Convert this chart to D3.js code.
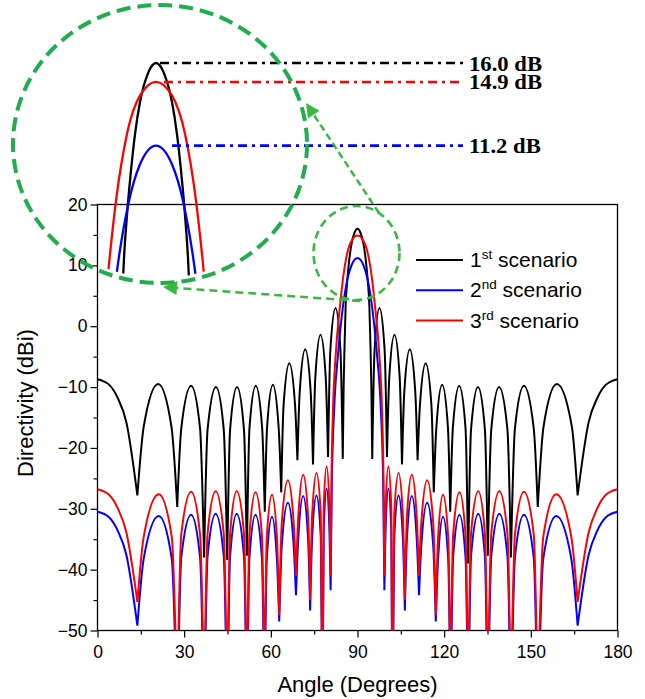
<!DOCTYPE html>
<html>
<head>
<meta charset="utf-8">
<script src="https://cdn.jsdelivr.net/npm/d3@7/dist/d3.min.js"></script>
<style>
  body { margin: 0; background: #fff; }
  svg { display: block; }
  text { font-family: "Liberation Sans", Arial, sans-serif; fill: #000; }
</style>
</head>
<body>
<svg id="chart" width="645" height="699"></svg>
<script>
// ---- axis ticks ----
const xTicks = [0, 30, 60, 90, 120, 150, 180];
const xMinor = [15, 45, 75, 105, 135, 165];
const yTicks = [-50, -40, -30, -20, -10, 0, 10, 20];
const yMinor = [-45, -35, -25, -15, -5, 5, 15];

// ---- legend ----
const legendNum = ["1", "2", "3"];
const legendSup = ["st", "nd", "rd"];
const legendText = " scenario";

// ---- peak directivity of each scenario (dB) ----
const peakValues = [16.0, 11.2, 14.9];

// ---- directivity patterns: [angle (deg), directivity (dBi)] ----
const scenario1 = [
  [0,-8.7],[4,-9.6],[7,-11.8],[10,-15.8],[13.8,-27.8],
  [16.0,-16.5],[21.0,-9.5],[25.6,-16.5],[27.6,-29.7],
  [29.0,-16.8],[32.4,-9.8],[35.5,-16.8],[36.9,-38.0],
  [38.1,-17.0],[41.0,-10.0],[43.7,-17.0],[44.9,-38.4],
  [45.9,-17.0],[48.3,-10.0],[50.7,-17.0],[51.7,-37.7],
  [52.6,-16.8],[54.8,-9.8],[57.0,-16.8],[57.9,-30.5],
  [58.7,-16.6],[60.7,-9.6],[62.7,-16.6],[63.6,-27.3],
  [64.4,-13.1],[66.4,-6.1],[68.4,-13.1],[69.2,-22.0],
  [70.0,-10.8],[71.9,-3.8],[73.8,-10.8],[74.6,-22.7],
  [75.4,-8.4],[77.2,-1.4],[79.0,-8.4],[79.8,-21.5],
  [80.6,-4.0],[82.4,3.0],[84.1,-4.0],[84.9,-21.8],
  [85.2,-10.0],[85.5,-3.5],[85.9,3.4],[86.4,7.2],[86.9,9.8],[87.4,11.9],[88.0,13.7],[89.0,15.4],[90,16.0],
  [91.0,15.4],[92.0,13.7],[92.6,11.9],[93.1,9.8],[93.6,7.2],[94.1,3.4],[94.5,-3.5],[94.8,-10.0],[95.1,-21.8],
  [95.9,-4.0],[97.6,3.0],[99.4,-4.0],[100.2,-21.5],
  [101.0,-8.4],[102.8,-1.4],[104.6,-8.4],[105.4,-22.7],
  [106.2,-10.8],[108.1,-3.8],[110.0,-10.8],[110.8,-22.0],
  [111.6,-13.1],[113.6,-6.1],[115.6,-13.1],[116.4,-27.3],
  [117.3,-16.6],[119.3,-9.6],[121.3,-16.6],[122.1,-30.5],
  [123.0,-16.8],[125.2,-9.8],[127.4,-16.8],[128.3,-39.0],
  [129.3,-17.0],[131.7,-10.0],[134.1,-17.0],[135.1,-37.7],
  [136.3,-17.0],[139.0,-10.0],[141.9,-17.0],[143.1,-38.0],
  [144.5,-16.8],[147.6,-9.8],[151.0,-16.8],[152.4,-29.7],
  [154.4,-16.5],[159.0,-9.5],[164.2,-16.5],[166.2,-27.8],
  [170,-15.8],[173,-11.8],[176,-9.6],[180,-8.7]
];

const scenario2 = [
  [0,-30.5],[4,-31.4],[7,-33.6],[10,-37.6],[13.8,-49.2],
  [16.0,-38.2],[21.2,-31.2],[25.7,-38.2],[27.6,-66],
  [29.0,-38.0],[32.4,-31.0],[35.5,-38.0],[36.9,-66],
  [38.1,-37.8],[40.9,-30.8],[43.7,-37.8],[44.9,-66],
  [45.9,-37.8],[48.2,-30.8],[50.7,-37.8],[51.7,-66],
  [52.6,-38.0],[54.7,-31.0],[56.9,-38.0],[57.8,-64],
  [58.6,-38.3],[60.4,-31.3],[62.1,-38.3],[62.9,-48.5],
  [63.8,-36.0],[65.9,-29.0],[67.9,-36.0],[68.7,-44.2],
  [69.5,-34.9],[71.2,-27.9],[72.9,-34.9],[73.6,-46.7],
  [74.3,-34.8],[75.8,-27.8],[77.3,-34.8],[77.9,-66],
  [78.3,-33.7],[79.3,-26.7],[80.3,-33.7],[80.7,-43.4],
  [81.1,-26.0],[81.9,-13.9],[83.3,-4.4],[85.0,3.4],[86.6,7.9],[88.0,10.1],[90,11.2],
  [92.0,10.1],[93.4,7.9],[95.0,3.4],[96.7,-4.4],[98.1,-13.9],[98.9,-26.0],[99.3,-43.4],
  [99.7,-33.7],[100.7,-26.7],[101.7,-33.7],[102.1,-66],
  [102.7,-34.8],[104.2,-27.8],[105.7,-34.8],[106.4,-46.7],
  [107.1,-34.9],[108.8,-27.9],[110.5,-34.9],[111.3,-44.2],
  [112.1,-36.0],[114.1,-29.0],[116.2,-36.0],[117.1,-48.5],
  [117.9,-38.3],[119.6,-31.3],[121.4,-38.3],[122.2,-64],
  [123.1,-38.0],[125.3,-31.0],[127.4,-38.0],[128.3,-66],
  [129.3,-37.8],[131.8,-30.8],[134.1,-37.8],[135.1,-66],
  [136.3,-37.8],[139.1,-30.8],[141.9,-37.8],[143.1,-66],
  [144.5,-38.0],[147.6,-31.0],[151.0,-38.0],[152.4,-66],
  [154.3,-38.2],[158.8,-31.2],[164.0,-38.2],[166.2,-49.2],
  [170,-37.6],[173,-33.6],[176,-31.4],[180,-30.5]
];

const scenario3 = [
  [0,-26.8],[4,-27.7],[7,-29.9],[10,-33.9],[13.8,-45.3],
  [16.0,-34.6],[21.2,-27.6],[25.7,-34.6],[27.6,-62],
  [29.0,-34.2],[32.4,-27.2],[35.5,-34.2],[36.9,-62],
  [38.1,-34.1],[40.9,-27.1],[43.7,-34.1],[44.9,-62],
  [45.9,-34.1],[48.2,-27.1],[50.7,-34.1],[51.7,-62],
  [52.6,-34.3],[54.7,-27.3],[56.9,-34.3],[57.8,-60],
  [58.6,-34.7],[60.4,-27.7],[62.1,-34.7],[62.9,-47.5],
  [63.8,-32.3],[65.9,-25.3],[67.9,-32.3],[68.7,-41.0],
  [69.5,-31.4],[71.2,-24.4],[72.9,-31.4],[73.6,-45.0],
  [74.3,-31.1],[75.8,-24.1],[77.3,-31.1],[77.9,-62],
  [78.3,-30.0],[79.3,-23.0],[80.3,-30.0],[80.7,-41.0],
  [81.0,-25.0],[81.5,-14.0],[82.5,-4.4],[84.0,3.6],[85.0,7.9],[86.4,11.9],[88.0,14.1],[90,14.9],
  [92.0,14.1],[93.6,11.9],[95.0,7.9],[96.0,3.6],[97.5,-4.4],[98.5,-14.0],[99.0,-25.0],[99.3,-41.0],
  [99.7,-30.0],[100.7,-23.0],[101.7,-30.0],[102.1,-62],
  [102.7,-31.1],[104.2,-24.1],[105.7,-31.1],[106.4,-45.0],
  [107.1,-31.4],[108.8,-24.4],[110.5,-31.4],[111.3,-41.0],
  [112.1,-32.3],[114.1,-25.3],[116.2,-32.3],[117.1,-47.5],
  [117.9,-34.7],[119.6,-27.7],[121.4,-34.7],[122.2,-60],
  [123.1,-34.3],[125.3,-27.3],[127.4,-34.3],[128.3,-62],
  [129.3,-34.1],[131.8,-27.1],[134.1,-34.1],[135.1,-62],
  [136.3,-34.1],[139.1,-27.1],[141.9,-34.1],[143.1,-62],
  [144.5,-34.2],[147.6,-27.2],[151.0,-34.2],[152.4,-62],
  [154.3,-34.6],[158.8,-27.6],[164.0,-34.6],[166.2,-45.3],
  [170,-33.9],[173,-29.9],[176,-27.7],[180,-26.8]
];

const seriesColors = ["#000000", "#0000ff", "#ff0000"];
const series = [scenario1, scenario2, scenario3];
// legend order is 1st, 2nd, 3rd; drawing order keeps the 3rd scenario on top

// ---- layout ----
const svg = d3.select("#chart");
const x = d3.scaleLinear().domain([0, 180]).range([97.5, 617.5]);
const y = d3.scaleLinear().domain([-50, 20]).range([630.5, 204.5]);

const defs = svg.append("defs");
defs.append("clipPath").attr("id", "plotClip")
  .append("rect")
  .attr("x", x(0)).attr("y", y(20))
  .attr("width", x(180) - x(0)).attr("height", y(-50) - y(20));

// inset (magnified main beam) scales and clip
const inset = { cx: 160, cy: 144, rx: 147, ry: 139 };
const ix = d3.scaleLinear().domain([80, 100]).range([75.6, 236.4]);
const iy = d3.scaleLinear().domain([11.2, 16.0]).range([145.6, 63]);
defs.append("clipPath").attr("id", "insetClip")
  .append("ellipse")
  .attr("cx", inset.cx).attr("cy", inset.cy)
  .attr("rx", inset.rx - 2).attr("ry", inset.ry - 5);

// split a pattern at its nulls so each lobe is its own smooth piece
function lobes(pts) {
  const segs = [];
  let cur = [pts[0]];
  for (let i = 1; i < pts.length; i++) {
    cur.push(pts[i]);
    if (i < pts.length - 1 && pts[i][1] < pts[i - 1][1] && pts[i][1] < pts[i + 1][1]) {
      segs.push(cur);
      cur = [pts[i]];
    }
  }
  segs.push(cur);
  return segs;
}

// ---- axes ----
const fmt = d3.format("");
const gx = svg.append("g").attr("transform", `translate(0,${y(-50)})`);
gx.call(d3.axisBottom(x).tickValues(xTicks).tickSize(7).tickPadding(8).tickFormat(fmt));
gx.append("g").call(d3.axisBottom(x).tickValues(xMinor).tickSize(4).tickFormat(""));
const gy = svg.append("g").attr("transform", `translate(${x(0)},0)`);
gy.call(d3.axisLeft(y).tickValues(yTicks).tickSize(7).tickPadding(3));
gy.append("g").call(d3.axisLeft(y).tickValues(yMinor).tickSize(4).tickFormat(""));
svg.selectAll(".domain").remove();
svg.selectAll(".tick line").attr("stroke", "#000").attr("stroke-width", 1.2);
svg.selectAll(".tick text")
  .style("font-family", "'Liberation Sans', Arial, sans-serif")
  .style("font-size", "17.5px").attr("fill", "#000");

svg.append("rect")
  .attr("x", x(0)).attr("y", y(20))
  .attr("width", x(180) - x(0)).attr("height", y(-50) - y(20))
  .attr("fill", "none").attr("stroke", "#000").attr("stroke-width", 1.3);

svg.append("text")
  .attr("x", x(90)).attr("y", 692)
  .attr("text-anchor", "middle")
  .style("font-size", "22px")
  .text("Angle (Degrees)");
svg.append("text")
  .attr("transform", "translate(33,403) rotate(-90)")
  .attr("text-anchor", "middle")
  .style("font-size", "22px")
  .text("Directivity (dBi)");

// ---- curves ----
const line = d3.line().x(d => x(d[0])).y(d => y(d[1])).curve(d3.curveMonotoneX);
const plot = svg.append("g").attr("clip-path", "url(#plotClip)");
series.forEach((s, i) => {
  plot.append("path")
    .attr("d", lobes(s).map(line).join(""))
    .attr("fill", "none")
    .attr("stroke", seriesColors[i])
    .attr("stroke-width", 2)
    .attr("stroke-linejoin", "round");
});

// ---- legend ----
const legend = svg.append("g");
[0, 1, 2].forEach(i => {
  const ly = 260 + i * 30.3;
  legend.append("line")
    .attr("x1", 416).attr("x2", 463).attr("y1", ly).attr("y2", ly)
    .attr("stroke", seriesColors[i]).attr("stroke-width", 2);
  const t = legend.append("text").attr("x", 470).attr("y", ly + 7).style("font-size", "21px");
  t.append("tspan").text(legendNum[i]);
  t.append("tspan").attr("dy", -8).style("font-size", "13.5px").text(legendSup[i]);
  t.append("tspan").attr("dy", 8).text(legendText);
});

// ---- magnified main beam ----
const iline = d3.line().x(d => ix(d[0])).y(d => iy(d[1])).curve(d3.curveMonotoneX);
const ins = svg.append("g").attr("clip-path", "url(#insetClip)");
series.forEach((s, i) => {
  ins.append("path")
    .attr("d", lobes(s.filter(d => d[0] >= 78 && d[0] <= 102)).map(iline).join(""))
    .attr("fill", "none")
    .attr("stroke", seriesColors[i])
    .attr("stroke-width", 2.3);
});

// peak level markers: black, red, blue
const markerOrder = [0, 2, 1];
const markerStart = [160, 164, 172];
const peakFmt = d3.format(".1f");
markerOrder.forEach((k, j) => {
  const py = iy(peakValues[k]);
  svg.append("line")
    .attr("x1", markerStart[j]).attr("x2", 463)
    .attr("y1", py).attr("y2", py)
    .attr("stroke", seriesColors[k]).attr("stroke-width", 2.6)
    .attr("stroke-dasharray", "9 5 3 5");
  svg.append("text")
    .attr("transform", `translate(469,${py + 7.5}) scale(1.08,1)`)
    .style("font-family", "'Liberation Serif', 'Times New Roman', serif")
    .style("font-weight", "bold").style("font-size", "21px")
    .attr("fill", seriesColors[k])
    .text(peakFmt(peakValues[k]) + " dB");
});

// ---- green call-out circles and arrows ----
const greenDark = "#1fae4b";
const greenLight = "#38b83e";
svg.append("ellipse")
  .attr("cx", inset.cx).attr("cy", inset.cy).attr("rx", inset.rx).attr("ry", inset.ry)
  .attr("fill", "none").attr("stroke", greenDark)
  .attr("stroke-width", 4).attr("stroke-dasharray", "14 7");
svg.append("ellipse")
  .attr("cx", 356.5).attr("cy", 253).attr("rx", 43).attr("ry", 47)
  .attr("fill", "none").attr("stroke", greenLight)
  .attr("stroke-width", 2.6).attr("stroke-dasharray", "8 5");

function arrow(x1, y1, x2, y2, dash) {
  const a = Math.atan2(y2 - y1, x2 - x1);
  const len = 14, half = 7;
  const bx = x2 - len * Math.cos(a), by = y2 - len * Math.sin(a);
  svg.append("line")
    .attr("x1", x1).attr("y1", y1).attr("x2", bx).attr("y2", by)
    .attr("stroke", greenLight).attr("stroke-width", 2.5)
    .attr("stroke-dasharray", dash);
  const pts = [
    [x2, y2],
    [bx + half * Math.sin(a), by - half * Math.cos(a)],
    [bx - half * Math.sin(a), by + half * Math.cos(a)]
  ];
  svg.append("polygon")
    .attr("points", pts.map(p => p.join(",")).join(" "))
    .attr("fill", greenLight);
}
arrow(360, 301, 163, 287, "8 5");
arrow(379, 213, 306, 103, "7 4");
</script>
</body>
</html>
